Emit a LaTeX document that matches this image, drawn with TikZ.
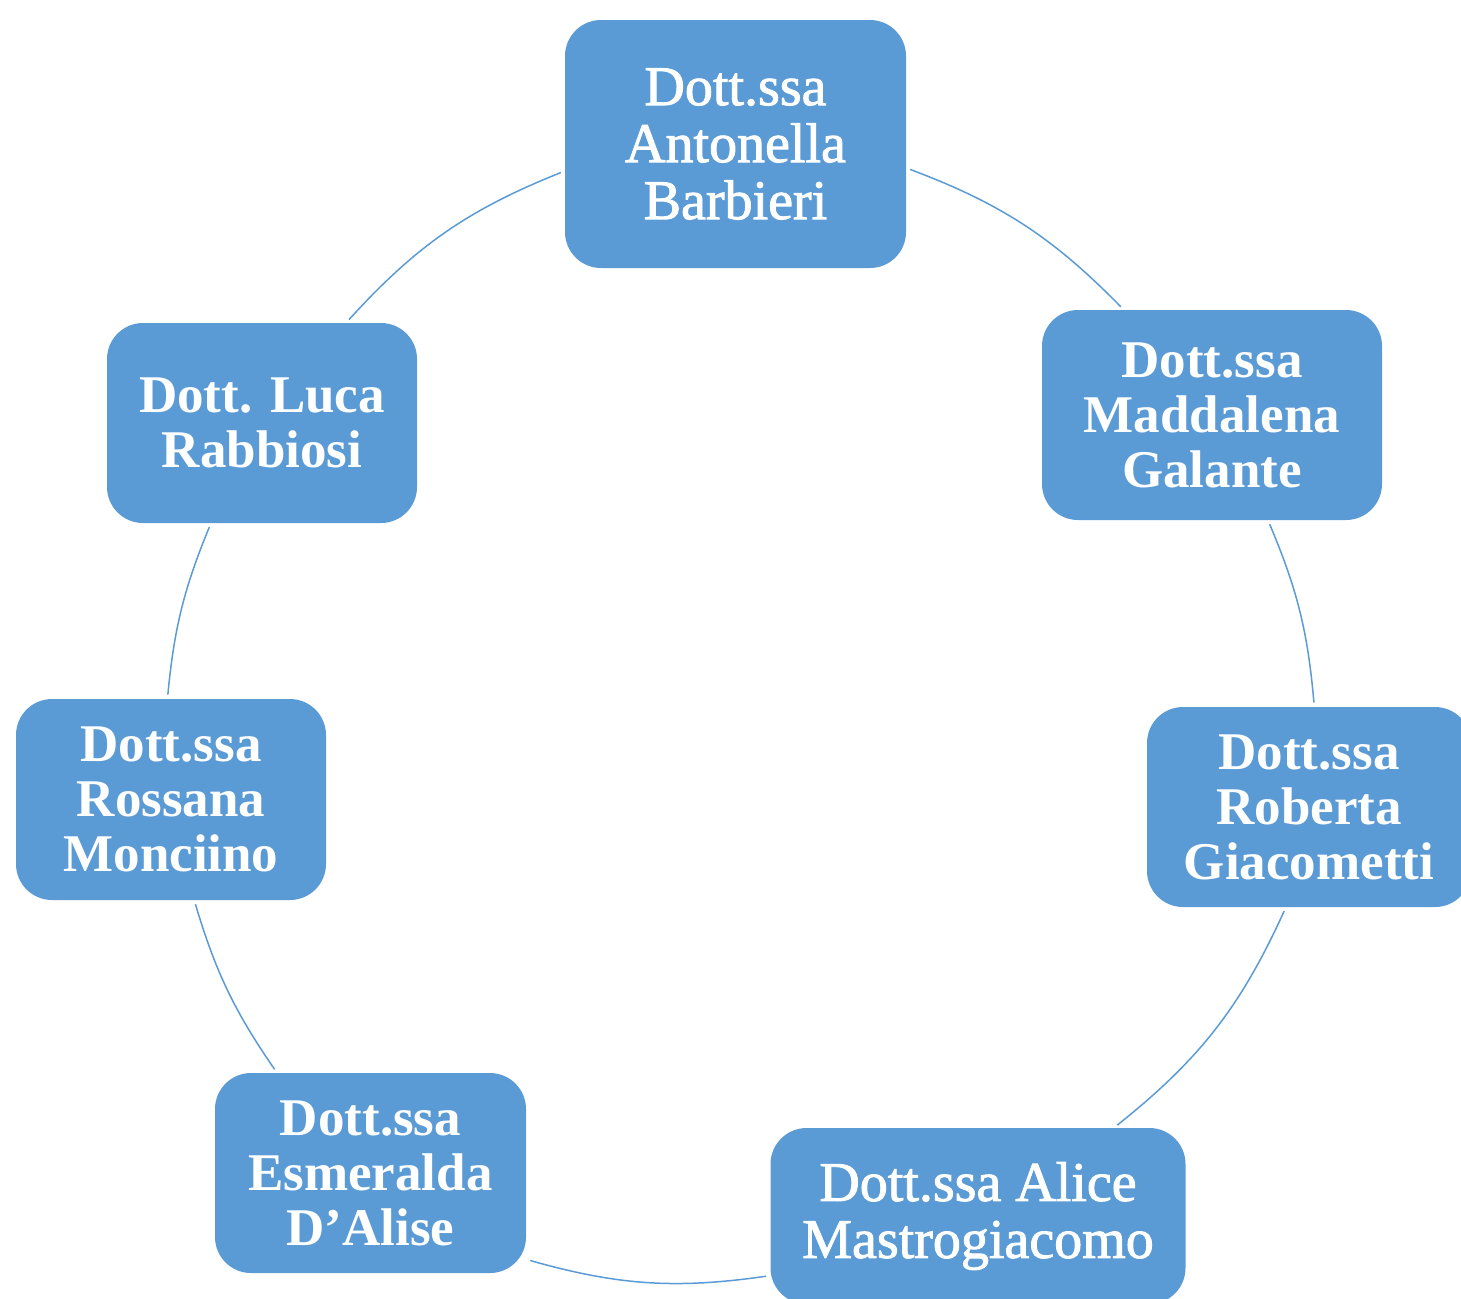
\documentclass[tikz,border=0pt]{standalone}
\usepackage{fontspec}
\setmainfont{Liberation Serif}
\newfontfamily\garfont{Liberation Serif}[FakeBold=1.6]
\usetikzlibrary{positioning}
\definecolor{cycleblue}{RGB}{91,155,213}

\begin{document}
\begin{tikzpicture}[x=0.5pt,y=-0.5pt,
    box/.style={rectangle,rounded corners=18pt,fill=cycleblue,text=white,align=center,inner sep=0pt},
    boldname/.style={font=\fontsize{26.5}{27.5}\selectfont\bfseries},
    softname/.style={font=\fontsize{28}{28.5}\selectfont\garfont},
    ring/.style={draw=cycleblue,line width=0.75pt,shorten <=2pt,shorten >=2pt}]
\useasboundingbox (0,0) rectangle (1461,1298);
                \node[box,softname,minimum width=170.5pt,minimum height=124pt] (barbieri) at (735.5,144) {Dott.ssa\\Antonella\\Barbieri};
                \node[box,boldname,minimum width=170pt,minimum height=105pt] (galante) at (1212,415) {Dott.ssa\\Maddalena\\Galante};
                \node[box,boldname,minimum width=162pt,minimum height=100pt] (giacometti) at (1309,807) {Dott.ssa\\Roberta\\Giacometti};
                \node[box,softname,minimum width=207.5pt,minimum height=88pt] (mastro) at (978,1216) {Dott.ssa Alice\\Mastrogiacomo};
                \node[box,boldname,minimum width=155.5pt,minimum height=100pt] (dalise) at (370.5,1173) {Dott.ssa\\Esmeralda\\D’Alise};
                \node[box,boldname,minimum width=155pt,minimum height=100.5pt] (monciino) at (171,799.5) {Dott.ssa\\Rossana\\Monciino};
                \node[box,boldname,minimum width=155pt,minimum height=100pt] (rabbiosi) at (262,423) {Dott. Luca\\Rabbiosi};
                \draw[ring] (barbieri.-8.8) to[bend left=12.5] (galante.130.5);
                \draw[ring] (galante.-62.8) to[bend left=9] (giacometti.87.2);
                \draw[ring] (giacometti.-103.4) to[bend left=13.5] (mastro.33.2);
                \draw[ring] (mastro.-164.5) to[bend left=12] (dalise.-29.8);
                \draw[ring] (dalise.133.2) to[bend left=9] (monciino.-77.6);
                \draw[ring] (monciino.92.2) to[bend left=8.5] (rabbiosi.-117);
                \draw[ring] (rabbiosi.50.7) to[bend left=13] (barbieri.-171.3);
            \end{tikzpicture}
\end{document}
